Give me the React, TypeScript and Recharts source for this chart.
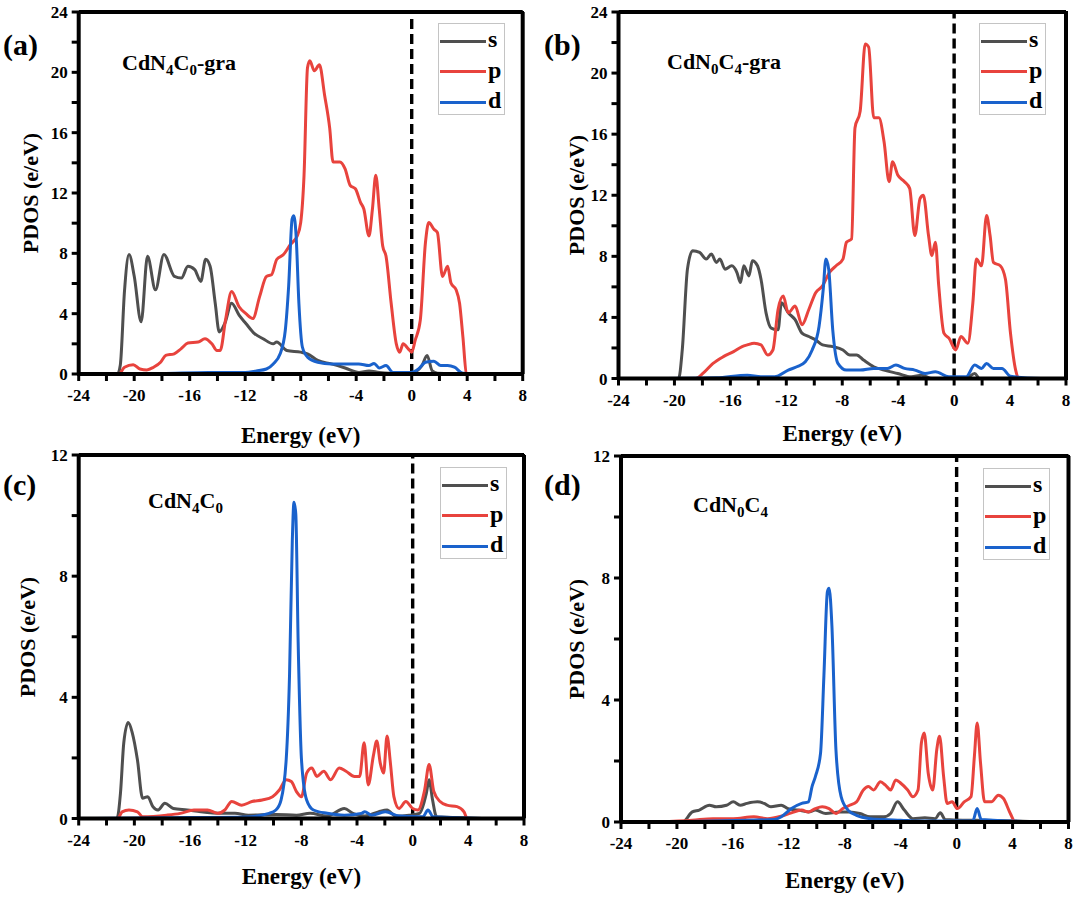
import React from "react";
import { LineChart, Line, XAxis, YAxis, ReferenceLine, Legend } from "recharts";

type Pt = [number, number];

// ---------- tick values ----------
const energyTicks = [-24, -22, -20, -18, -16, -14, -12, -10, -8, -6, -4, -2, 0, 2, 4, 6, 8];
const upperTicks = [0, 2, 4, 6, 8, 10, 12, 14, 16, 18, 20, 22, 24];
const lowerTicks = [0, 2, 4, 6, 8, 10, 12];
const orbitalNames = ["s", "p", "d"];
const panelLetters = ["(a)", "(b)", "(c)", "(d)"];
// title segments: odd indices are subscripts
const titleA = ["CdN", "4", "C", "0", "-gra"];
const titleB = ["CdN", "0", "C", "4", "-gra"];
const titleC = ["CdN", "4", "C", "0", ""];
const titleD = ["CdN", "0", "C", "4", ""];

// ---------- panel (a) CdN4C0-gra ----------
const aS: Pt[] = [[-22.8,0],[-21.2,0],[-21.0,0.6],[-20.7,5.5],[-20.37,7.92],[-20.0,6.5],[-19.5,3.46],[-19.04,7.8],[-18.47,5.58],[-17.86,7.92],[-17.1,6.47],[-16.6,6.36],[-16.13,7.14],[-15.64,6.92],[-15.2,6.14],[-14.85,7.6],[-14.53,7.14],[-14.16,4.69],[-13.87,2.79],[-13.47,3.35],[-12.98,4.69],[-12.44,3.9],[-11.95,3.35],[-11.33,2.68],[-10.71,2.34],[-9.98,2.0],[-9.73,2.12],[-9.0,1.56],[-8.0,1.45],[-7.51,1.34],[-6.77,0.9],[-5.79,0.67],[-4.8,0.4],[-3.8,0.1],[-3.08,0.2],[-2.34,0.1],[-1.6,0.05],[-0.1,0.03],[0.74,0.56],[1.11,1.23],[1.48,0.2],[1.85,0.05],[3.8,0],[5.7,0]];
const aP: Pt[] = [[-22.8,0],[-21.1,0],[-20.7,0.45],[-20.07,0.62],[-19.58,0.33],[-19.09,0.27],[-18.6,0.45],[-18.1,0.78],[-17.73,1.23],[-17.12,1.34],[-16.63,1.67],[-16.13,2.05],[-15.39,2.12],[-14.9,2.34],[-14.4,2.0],[-14.04,1.56],[-13.8,1.56],[-13.42,3.57],[-12.98,5.47],[-12.44,4.46],[-11.95,4.0],[-11.45,3.68],[-10.96,5.13],[-10.47,6.47],[-10.1,6.58],[-9.73,7.59],[-9.24,7.92],[-8.74,8.59],[-8.25,9.15],[-8.0,10.04],[-7.76,13.17],[-7.51,20.3],[-7.34,20.76],[-7.02,20.1],[-6.65,20.5],[-6.28,18.5],[-5.91,16.3],[-5.67,14.06],[-5.17,14.06],[-4.8,13.6],[-4.43,12.5],[-4.06,12.28],[-3.69,11.38],[-3.45,10.94],[-3.08,9.15],[-2.83,10.94],[-2.59,13.17],[-2.34,10.94],[-2.09,8.48],[-1.85,7.81],[-1.48,4.69],[-1.11,2.0],[-0.86,1.45],[-0.62,2.0],[-0.25,1.67],[0,1.45],[0.25,2.23],[0.62,3.57],[0.99,8.7],[1.23,10.04],[1.6,9.6],[1.85,9.38],[2.22,6.47],[2.59,7.14],[2.83,6.03],[3.2,5.58],[3.45,4.69],[3.69,2.46],[3.94,0.05],[4.06,0],[5.7,0]];
const aD: Pt[] = [[-22.8,0],[-18,0.03],[-14.65,0.1],[-12,0.1],[-11.2,0.2],[-10.47,0.33],[-9.98,0.67],[-9.48,1.34],[-9.11,2.9],[-8.87,5.8],[-8.62,10.27],[-8.5,10.5],[-8.33,9.15],[-8.13,4.69],[-7.88,1.79],[-7.51,1.12],[-6.77,0.78],[-5.79,0.67],[-4.8,0.67],[-3.82,0.67],[-3.08,0.56],[-2.71,0.7],[-2.34,0.4],[-1.85,0.56],[-1.35,0.1],[-0.12,0.1],[0.49,0.33],[0.99,0.78],[1.6,0.85],[2.09,0.56],[2.59,0.56],[3.08,0.45],[3.69,0.05],[5.54,0]];

// ---------- panel (b) CdN0C4-gra ----------
const bS: Pt[] = [[-21.3,0],[-19.7,0],[-19.44,1.87],[-19.07,7.16],[-18.7,8.37],[-18.2,8.26],[-17.73,7.82],[-17.36,8.15],[-17.0,7.6],[-16.75,7.82],[-16.38,7.16],[-15.9,7.38],[-15.53,6.94],[-15.28,6.28],[-15.04,7.38],[-14.67,6.72],[-14.43,7.71],[-14.06,7.38],[-13.81,6.5],[-13.45,4.3],[-13.08,3.3],[-12.59,3.19],[-12.35,4.96],[-11.86,4.3],[-11.37,3.85],[-10.88,2.97],[-10.39,2.75],[-9.9,2.53],[-9.41,2.2],[-8.68,2.09],[-7.95,1.87],[-7.46,1.54],[-6.97,1.54],[-6.48,1.21],[-5.75,0.77],[-5.01,0.55],[-4.03,0.33],[-3.06,0.11],[-2.32,0.22],[-1.59,0],[0.86,0],[1.47,0.33],[1.83,0],[6.2,0]];
const bP: Pt[] = [[-21.3,0],[-18.46,0],[-17.97,0.33],[-17.24,0.99],[-16.5,1.43],[-15.77,1.76],[-15.16,2.09],[-14.79,2.2],[-14.3,2.31],[-13.81,2.2],[-13.33,1.54],[-12.96,1.87],[-12.59,4.52],[-12.22,5.4],[-11.86,4.3],[-11.37,4.74],[-10.88,3.52],[-10.39,4.52],[-9.9,5.62],[-9.41,6.06],[-8.92,6.94],[-8.44,7.38],[-7.95,7.82],[-7.7,8.92],[-7.33,9.14],[-7.09,16.4],[-6.72,17.5],[-6.36,21.9],[-6.11,21.7],[-5.75,17.07],[-5.38,17.07],[-5.01,15.5],[-4.65,12.89],[-4.4,14.2],[-4.03,13.33],[-3.55,12.89],[-3.18,12.45],[-2.81,9.36],[-2.44,11.78],[-2.2,12.0],[-1.83,9.36],[-1.59,8.04],[-1.34,8.92],[-1.1,6.06],[-0.73,2.97],[-0.37,2.64],[0.12,1.87],[0.49,2.75],[0.98,2.31],[1.34,4.96],[1.59,7.82],[1.96,7.38],[2.32,10.68],[2.57,9.36],[2.81,7.6],[3.3,7.38],[3.67,6.5],[4.03,2.97],[4.4,0.55],[4.65,0],[6.2,0]];
const bD: Pt[] = [[-21.3,0],[-17,0.05],[-14.79,0.22],[-13.81,0.11],[-12.84,0.11],[-11.86,0.55],[-11.25,0.77],[-10.64,1.1],[-10.15,1.87],[-9.66,3.41],[-9.36,5.84],[-9.17,7.82],[-8.97,7.16],[-8.68,3.19],[-8.31,0.99],[-7.7,0.55],[-6.72,0.55],[-5.75,0.66],[-4.77,0.66],[-4.16,0.88],[-3.55,0.66],[-2.81,0.55],[-2.08,0.33],[-1.34,0.44],[-0.37,0.11],[0.86,0.11],[1.47,0.88],[1.96,0.66],[2.32,0.99],[2.81,0.66],[3.42,0.66],[4.03,0.15],[6.23,0]];

// ---------- panel (c) CdN4C0 ----------
const cS: Pt[] = [[-22.85,0],[-21.25,0],[-21.0,0.83],[-20.76,2.5],[-20.44,3.17],[-20.15,2.83],[-19.78,1.94],[-19.41,0.67],[-19.04,0.72],[-18.67,0.39],[-18.3,0.28],[-17.81,0.5],[-17.2,0.33],[-16.2,0.28],[-15.23,0.22],[-13.76,0.17],[-12.78,0.17],[-11.8,0.11],[-9.83,0.13],[-8.35,0.11],[-7.37,0.17],[-6.14,0.08],[-4.91,0.33],[-4.3,0.17],[-3.44,0.08],[-2.46,0.22],[-1.84,0.28],[-1.23,0.08],[-0.25,0.11],[0.49,0.17],[0.98,0.83],[1.18,1.28],[1.43,0.61],[1.72,0.06],[5.6,0]];
const cP: Pt[] = [[-22.85,0],[-21.2,0],[-20.88,0.22],[-20.39,0.28],[-19.78,0.22],[-19.41,0.06],[-17.69,0.11],[-16.7,0.17],[-15.72,0.28],[-14.74,0.28],[-14.0,0.17],[-13.5,0.28],[-13.0,0.56],[-12.29,0.44],[-11.55,0.56],[-10.81,0.61],[-10.07,0.72],[-9.58,0.94],[-9.09,1.28],[-8.72,1.22],[-8.35,0.89],[-7.99,0.72],[-7.62,1.5],[-7.25,1.67],[-6.88,1.39],[-6.39,1.56],[-5.9,1.28],[-5.28,1.67],[-4.79,1.56],[-4.18,1.39],[-3.81,1.39],[-3.49,2.5],[-3.19,1.11],[-2.83,2.06],[-2.58,2.56],[-2.33,1.83],[-2.09,1.5],[-1.84,2.72],[-1.6,1.83],[-1.35,0.72],[-0.98,0.33],[-0.49,0.56],[0,0.33],[0.37,0.28],[0.86,0.94],[1.18,1.78],[1.52,0.89],[1.97,0.56],[2.46,0.44],[3.19,0.39],[3.69,0.22],[3.93,0],[5.6,0]];
const cD: Pt[] = [[-22.85,0],[-16,0.03],[-12,0.05],[-10.32,0.17],[-9.83,0.28],[-9.46,0.61],[-9.09,1.94],[-8.85,4.72],[-8.65,9.17],[-8.53,10.44],[-8.4,10.06],[-8.23,5.83],[-7.99,1.94],[-7.62,0.61],[-7.13,0.28],[-6.14,0.17],[-4.91,0.11],[-3.69,0.17],[-3.44,0.22],[-2.95,0.11],[-1.97,0.22],[-0.98,0.08],[0.74,0.06],[1.1,0.28],[1.47,0.06],[5.65,0]];

// ---------- panel (d) CdN0C4 ----------
const dS: Pt[] = [[-21.3,0],[-19.6,0],[-18.9,0.33],[-18.4,0.39],[-17.68,0.55],[-17.19,0.5],[-16.45,0.55],[-15.97,0.66],[-15.48,0.55],[-14.99,0.61],[-14.25,0.66],[-13.77,0.61],[-13.28,0.5],[-12.54,0.55],[-12.05,0.44],[-11.32,0.39],[-10.59,0.33],[-10.1,0.39],[-9.36,0.28],[-8.39,0.33],[-7.65,0.33],[-6.92,0.28],[-6.19,0.17],[-5.21,0.17],[-4.72,0.28],[-4.23,0.66],[-3.74,0.39],[-3.13,0.11],[-2.27,0.14],[-1.54,0.11],[-1.17,0.3],[-0.81,0.08],[0.42,0.06],[1.39,0.06],[6.28,0]];
const dP: Pt[] = [[-21.3,0],[-18.9,0.06],[-17.43,0.11],[-15.97,0.11],[-14.5,0.17],[-13.52,0.11],[-12.54,0.19],[-11.81,0.3],[-11.08,0.39],[-10.59,0.33],[-10.1,0.44],[-9.61,0.5],[-9.12,0.44],[-8.63,0.28],[-8.14,0.44],[-7.65,0.55],[-7.16,0.66],[-6.67,1.05],[-6.31,1.16],[-5.94,1.05],[-5.45,1.32],[-5.09,1.21],[-4.72,1.05],[-4.35,1.38],[-3.99,1.27],[-3.5,1.05],[-3.13,0.83],[-2.76,1.05],[-2.52,2.59],[-2.32,2.92],[-2.03,1.6],[-1.71,1.05],[-1.42,2.37],[-1.22,2.81],[-0.93,1.49],[-0.68,0.61],[-0.32,0.66],[0.05,0.44],[0.54,0.66],[1.03,0.83],[1.27,2.15],[1.47,3.25],[1.71,1.93],[2.0,0.66],[2.49,0.66],[2.98,0.88],[3.35,0.77],[3.84,0.28],[4.2,0],[6.28,0]];
const dD: Pt[] = [[-21.3,0],[-14.99,0.06],[-13.03,0.08],[-12.54,0.17],[-11.81,0.44],[-11.08,0.61],[-10.59,0.66],[-10.34,1.16],[-10.1,1.49],[-9.73,2.26],[-9.49,4.8],[-9.24,7.55],[-9.12,7.66],[-8.92,6.45],[-8.63,2.37],[-8.26,0.83],[-7.77,0.39],[-7.16,0.22],[-6.19,0.11],[-5.21,0.08],[-3.99,0.06],[-2.76,0.03],[1.15,0.03],[1.47,0.44],[1.76,0.08],[6.28,0]];

// ---------- styles / layout ----------
const FONT = '"Liberation Serif", "Times New Roman", "DejaVu Serif", serif';
const COLORS = ["#4f4f4f", "#e8433d", "#1a62cc"];
const INK = "#000000";
const Y_AXIS_W = 50;
const X_AXIS_H = 40;
const FRAME_W = 4;

type Layout = {
  ox: number; oy: number; w: number; h: number;
  l: number; t: number; r: number; b: number;
  legend: { x: number; y: number };
  letter: { x: number; y: number };
  title: { x: number; y: number };
  yLabel: number;
  xLabel: number;
};

const layouts: Layout[] = [
  { ox: 0, oy: 0, w: 540, h: 440, l: 78.7, t: 12, r: 522.7, b: 374,
    legend: { x: 438, y: 23 }, letter: { x: 3, y: 30 }, title: { x: 122, y: 52 }, yLabel: 31, xLabel: 436 },
  { ox: 540, oy: 0, w: 540, h: 440, l: 618.5, t: 12, r: 1066, b: 378.5,
    legend: { x: 979, y: 23 }, letter: { x: 544, y: 30 }, title: { x: 667, y: 51 }, yLabel: 577, xLabel: 434 },
  { ox: 0, oy: 440, w: 540, h: 458, l: 78.7, t: 455, r: 524, b: 818.5,
    legend: { x: 440, y: 467 }, letter: { x: 3, y: 470 }, title: { x: 148, y: 490 }, yLabel: 28, xLabel: 877 },
  { ox: 540, oy: 440, w: 540, h: 458, l: 621, t: 456, r: 1068.5, b: 822,
    legend: { x: 983, y: 468 }, letter: { x: 544, y: 470 }, title: { x: 693, y: 494 }, yLabel: 577, xLabel: 881 },
];

const panels = [
  { series: [aS, aP, aD], yTicks: upperTicks, title: titleA },
  { series: [bS, bP, bD], yTicks: upperTicks, title: titleB },
  { series: [cS, cP, cD], yTicks: lowerTicks, title: titleC },
  { series: [dS, dP, dD], yTicks: lowerTicks, title: titleD },
];

const tickText = { fill: INK, fontSize: 17, fontWeight: 700, fontFamily: FONT };
const majorOnly = (v: number) => (v % 4 === 0 ? String(v) : "");

function Title({ parts }: { parts: string[] }) {
  return (
    <span>
      {parts.map((p, i) =>
        i % 2 === 1 ? (
          <span key={i} style={{ fontSize: 15, position: "relative", top: 5 }}>{p}</span>
        ) : (
          <span key={i}>{p}</span>
        )
      )}
    </span>
  );
}

function Panel({ idx }: { idx: number }) {
  const L = layouts[idx];
  const P = panels[idx];
  const ymax = P.yTicks[P.yTicks.length - 1];
  const margin = {
    top: L.t - L.oy,
    left: L.l - L.ox - Y_AXIS_W,
    right: L.ox + L.w - L.r,
    bottom: L.oy + L.h - L.b - X_AXIS_H,
  };
  const seriesData = P.series.map((s) => s.map(([x, y]) => ({ x, y })));

  const legendContent = (props: any) => {
    const payload: any[] = (props && props.payload) || [];
    const ordered = orbitalNames.map((n, i) => {
      const e = payload.find((p) => p.value === n);
      return { value: n, color: e ? e.color : COLORS[i] };
    });
    return (
      <div
        style={{
          width: 67,
          height: 92,
          boxSizing: "border-box",
          border: "1.2px solid #c4c4c4",
          background: "#fff",
          paddingTop: 2,
          fontFamily: FONT,
          fontWeight: 700,
          fontSize: 24,
        }}
      >
        {ordered.map((e, i) => (
          <div key={i} style={{ height: 30.5, display: "flex", alignItems: "center" }}>
            <div style={{ width: 46, height: 3.4, background: e.color, marginLeft: 1, marginRight: 2 }} />
            <span style={{ lineHeight: 1, position: "relative", top: -2 }}>{e.value}</span>
          </div>
        ))}
      </div>
    );
  };

  return (
    <div style={{ position: "absolute", left: L.ox, top: L.oy, width: L.w, height: L.h }}>
      <LineChart width={L.w} height={L.h} margin={margin}>
        <XAxis
          xAxisId="x"
          type="number"
          dataKey="x"
          domain={[-24, 8]}
          ticks={energyTicks}
          height={X_AXIS_H}
          stroke={INK}
          axisLine={{ stroke: INK, strokeWidth: FRAME_W }}
          tickLine={{ stroke: INK, strokeWidth: 3 }}
          tickSize={7}
          tickMargin={8}
          tick={tickText}
          tickFormatter={majorOnly}
        />
        <YAxis
          yAxisId="y"
          type="number"
          domain={[0, ymax]}
          ticks={P.yTicks}
          width={Y_AXIS_W}
          stroke={INK}
          axisLine={{ stroke: INK, strokeWidth: FRAME_W }}
          tickLine={{ stroke: INK, strokeWidth: 3 }}
          tickSize={7}
          tickMargin={4}
          tick={tickText}
          tickFormatter={majorOnly}
        />
        <ReferenceLine xAxisId="x" yAxisId="y" y={ymax} stroke={INK} strokeWidth={FRAME_W} />
        <ReferenceLine xAxisId="x" yAxisId="y" x={8} stroke={INK} strokeWidth={FRAME_W} />
        <ReferenceLine xAxisId="x" yAxisId="y" x={0} stroke={INK} strokeWidth={3.4} strokeDasharray="10 5" />
        {seriesData.map((d, i) => (
          <Line
            key={orbitalNames[i]}
            name={orbitalNames[i]}
            xAxisId="x"
            yAxisId="y"
            data={d}
            dataKey="y"
            type="monotone"
            stroke={COLORS[i]}
            strokeWidth={3}
            dot={false}
            activeDot={false}
            isAnimationActive={false}
          />
        ))}
        <Legend
          layout="vertical"
          align="center"
          verticalAlign="middle"
          content={legendContent}
          wrapperStyle={{
            position: "absolute",
            left: L.legend.x - L.ox,
            top: L.legend.y - L.oy,
            width: 67,
            height: 92,
            margin: 0,
          }}
        />
      </LineChart>
      {/* plot frame */}
      <div
        style={{
          position: "absolute",
          left: L.l - L.ox - 1.5,
          top: L.t - L.oy - 1.5,
          width: L.r - L.l + 3,
          height: L.b - L.t + 3,
          boxSizing: "border-box",
          border: "3px solid #000",
          pointerEvents: "none",
        }}
      />
      <div
        style={{
          position: "absolute",
          left: L.letter.x - L.ox,
          top: L.letter.y - L.oy,
          fontFamily: FONT,
          fontWeight: 700,
          fontSize: 30,
          lineHeight: "30px",
        }}
      >
        {panelLetters[idx]}
      </div>
      <div
        style={{
          position: "absolute",
          left: L.title.x - L.ox,
          top: L.title.y - L.oy,
          fontFamily: FONT,
          fontWeight: 700,
          fontSize: 22,
          lineHeight: "22px",
          whiteSpace: "nowrap",
        }}
      >
        <Title parts={P.title} />
      </div>
      <div
        style={{
          position: "absolute",
          left: L.yLabel - L.ox - 100,
          top: (L.t + L.b) / 2 - L.oy - 13,
          width: 200,
          height: 26,
          lineHeight: "26px",
          textAlign: "center",
          transform: "rotate(-90deg)",
          fontFamily: FONT,
          fontWeight: 700,
          fontSize: 22,
          whiteSpace: "nowrap",
        }}
      >
        PDOS (e/eV)
      </div>
      <div
        style={{
          position: "absolute",
          left: (L.l + L.r) / 2 - L.ox - 100,
          top: L.xLabel - L.oy - 14,
          width: 200,
          height: 28,
          lineHeight: "28px",
          textAlign: "center",
          fontFamily: FONT,
          fontWeight: 700,
          fontSize: 23,
          whiteSpace: "nowrap",
        }}
      >
        Energy (eV)
      </div>
    </div>
  );
}

export default function App() {
  return (
    <div style={{ position: "absolute", left: 0, top: 0, width: 1080, height: 898, background: "#fff", overflow: "hidden" }}>
      {[0, 1, 2, 3].map((i) => (
        <Panel key={i} idx={i} />
      ))}
    </div>
  );
}
